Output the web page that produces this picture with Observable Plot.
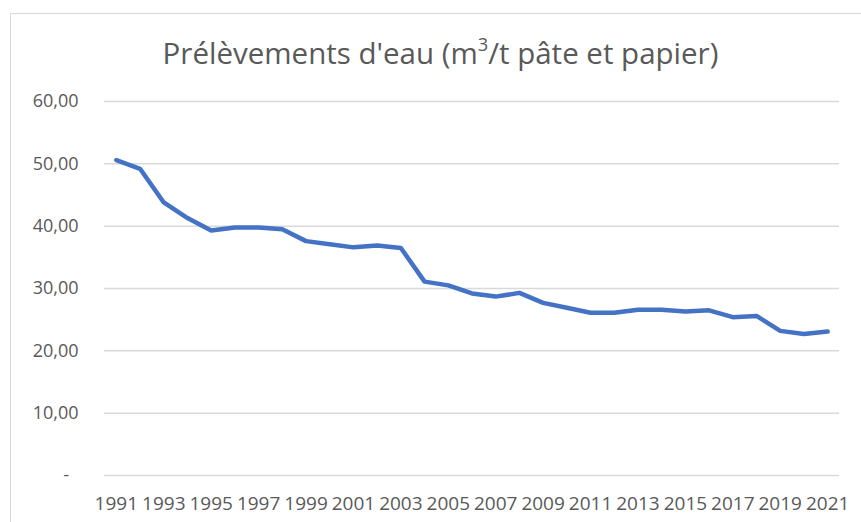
<!DOCTYPE html>
<html><head><meta charset="utf-8">
<script src="https://cdn.jsdelivr.net/npm/d3@7"></script>
<script src="https://cdn.jsdelivr.net/npm/@observablehq/plot@0.6"></script>
<style>
body{margin:0;width:861px;height:522px;overflow:hidden;background:#fff;font-family:"Open Sans",sans-serif;}
#wrap{position:relative;width:861px;height:522px;overflow:hidden;}
#frame{position:absolute;left:10px;top:13px;width:900px;height:600px;border:1.5px solid #d9d9d9;box-sizing:border-box;}
#title{position:absolute;left:0;width:881px;top:38px;text-align:center;font-size:29.5px;line-height:29.5px;color:#595959;white-space:nowrap;}
#title sup{font-size:62%;line-height:0;vertical-align:0.7em;}
#chart{position:absolute;left:0;top:0;}
</style></head>
<body>
<div id="wrap">
  <div id="frame"></div>
  <div id="chart"></div>
  <div id="title">Prélèvements d'eau (m<sup>3</sup>/t pâte et papier)</div>
</div>
<script>
const years = [1991,1992,1993,1994,1995,1996,1997,1998,1999,2000,2001,2002,2003,2004,2005,2006,2007,2008,2009,2010,2011,2012,2013,2014,2015,2016,2017,2018,2019,2020,2021];
const values = [50.6,49.2,43.8,41.3,39.3,39.8,39.8,39.5,37.6,37.1,36.6,36.9,36.5,31.1,30.5,29.2,28.7,29.3,27.7,26.9,26.1,26.1,26.6,26.6,26.3,26.5,25.4,25.6,23.2,22.7,23.1];
const yTicks = [0,10,20,30,40,50,60];
const xTickLabels = years.filter(y => y % 2 === 1);

const data = years.map((y, i) => ({year: y, value: values[i]}));
const fmt = d => d === 0 ? "-\u00a0\u00a0" : d.toFixed(2).replace(".", ",");

const chart = Plot.plot({
  width: 861,
  height: 522,
  marginLeft: 104,
  marginRight: 22,
  marginTop: 101,
  marginBottom: 47,
  style: {fontFamily: "Open Sans, sans-serif", fontSize: "18px", color: "#595959", background: "transparent"},
  x: {type: "point", domain: years, padding: 0.5, round: false},
  y: {domain: [0, 60]},
  marks: [
    Plot.gridY(yTicks, {stroke: "#d9d9d9", strokeOpacity: 1, strokeWidth: 1.5}),
    Plot.axisY(yTicks, {tickSize: 0, tickPadding: 26, tickFormat: fmt, label: null, fill: "#595959"}),
    Plot.axisX(xTickLabels, {tickSize: 0, tickPadding: 21, fontSize: 19, tickFormat: d => String(d), label: null, fill: "#595959"}),
    Plot.line(data, {x: "year", y: "value", stroke: "#4472C4", strokeWidth: 4.5, strokeLinejoin: "round", strokeLinecap: "round"})
  ]
});
document.getElementById("chart").appendChild(chart);
</script>
</body></html>
